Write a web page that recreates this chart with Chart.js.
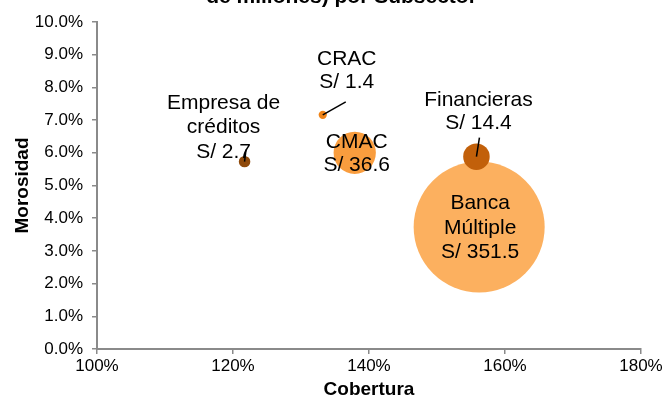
<!DOCTYPE html>
<html>
<head>
<meta charset="utf-8">
<script src="https://cdn.jsdelivr.net/npm/chart.js@4/dist/chart.umd.min.js"></script>
<style>
  html, body { margin: 0; padding: 0; background: #fff; }
  #wrap { position: relative; width: 667px; height: 401px; }
</style>
</head>
<body>
<div id="wrap"><canvas id="chart"></canvas></div>
<script>
// Data
const subsectors = ["Banca Múltiple", "CMAC", "Financieras", "Empresa de créditos", "CRAC"];
const nameLines = [["Banca", "Múltiple"], ["CMAC"], ["Financieras"], ["Empresa de", "créditos"], ["CRAC"]];
const cobertura = [156.2, 137.9, 155.8, 121.7, 133.2];   // %
const morosidad = [3.73, 6.0, 5.88, 5.73, 7.16];          // %
const montos = [351.5, 36.6, 14.4, 2.7, 1.4];             // S/ miles de millones
const xTicks = [100, 120, 140, 160, 180];
const yTicks = [0, 1, 2, 3, 4, 5, 6, 7, 8, 9, 10];

// Styles
const FONT = "'Liberation Sans', Arial, sans-serif";
const colors = ["#FCB05F", "#F99D3E", "#C2600A", "#8F4A0B", "#F08418"];
const bubbleScale = 3.494; // px per sqrt(size), area-proportional like Excel
const labelOffsets = [
  { dx: 1, dy: [-24, 1, 25] },
  { dx: 2, dy: [-10.5, 12.5] },
  { dx: 2, dy: [-57, -34] },
  { dx: -21, dy: [-58, -34, -9] },
  { dx: 24, dy: [-55.5, -32.5] }
];
const leaders = [null, null, { dx: 3, dy: -19 }, { dx: 1.5, dy: -12 }, { dx: 23, dy: -13 }];

const points = subsectors.map((s, i) => ({
  x: cobertura[i],
  y: morosidad[i],
  r: Math.sqrt(montos[i]) * bubbleScale
}));

const bubbleLabels = {
  id: "bubbleLabels",
  afterDatasetsDraw(chart) {
    const ctx = chart.ctx;
    const meta = chart.getDatasetMeta(0);
    ctx.save();
    meta.data.forEach((el, i) => {
      const lead = leaders[i];
      if (lead) {
        ctx.beginPath();
        ctx.strokeStyle = "#000";
        ctx.lineWidth = 1.5;
        ctx.moveTo(el.x + lead.dx, el.y + lead.dy);
        ctx.lineTo(el.x, el.y);
        ctx.stroke();
      }
      const lines = nameLines[i].concat(["S/ " + montos[i]]);
      const off = labelOffsets[i];
      ctx.font = "21px " + FONT;
      ctx.fillStyle = "#000";
      ctx.textAlign = "center";
      ctx.textBaseline = "middle";
      lines.forEach((t, k) => ctx.fillText(t, el.x + off.dx, el.y + off.dy[k]));
    });
    ctx.restore();
  }
};

// title is cut off at the top of the reference image
const cutTitle = {
  id: "cutTitle",
  afterDraw(chart) {
    const ctx = chart.ctx;
    ctx.save();
    ctx.font = "bold 21px " + FONT;
    ctx.fillStyle = "#000";
    ctx.textAlign = "center";
    ctx.textBaseline = "alphabetic";
    ctx.fillText("de millones) por Subsector", 341.5, 3);
    ctx.restore();
  }
};

const axisColor = "#8A8A8A";

new Chart(document.getElementById("chart"), {
  type: "bubble",
  data: {
    datasets: [{
      data: points,
      backgroundColor: colors,
      borderWidth: 0,
      hoverBorderWidth: 0
    }]
  },
  options: {
    responsive: true,
    maintainAspectRatio: false,
    animation: false,
    layout: { autoPadding: false, padding: { top: 22, right: 26, left: 0, bottom: 0 } },
    plugins: {
      legend: { display: false },
      tooltip: { enabled: false }
    },
    scales: {
      x: {
        type: "linear",
        min: 100,
        max: 180,
        afterBuildTicks: s => { s.ticks = xTicks.map(v => ({ value: v })); },
        afterFit: s => { s.height = 52; },
        grid: { drawOnChartArea: false, drawTicks: true, tickLength: 5, color: axisColor, lineWidth: 1.5 },
        border: { color: axisColor, width: 2 },
        ticks: { color: "#000", font: { size: 17, family: FONT }, padding: 2, callback: v => v + "%" },
        title: { display: true, text: "Cobertura", color: "#000", font: { size: 19, weight: "bold", family: FONT }, padding: { top: 0, bottom: 0 } }
      },
      y: {
        type: "linear",
        min: 0,
        max: 10,
        afterBuildTicks: s => { s.ticks = yTicks.map(v => ({ value: v })); },
        afterFit: s => { s.width = 97; },
        grid: { drawOnChartArea: false, drawTicks: true, tickLength: 5, color: axisColor, lineWidth: 1.5 },
        border: { color: axisColor, width: 2 },
        ticks: { color: "#000", font: { size: 17, family: FONT }, padding: 9, callback: v => v.toFixed(1) + "%" },
        title: { display: true, text: "Morosidad", color: "#000", font: { size: 19, weight: "bold", family: FONT }, padding: { top: 11, bottom: 0 } }
      }
    }
  },
  plugins: [bubbleLabels, cutTitle]
});
</script>
</body>
</html>
